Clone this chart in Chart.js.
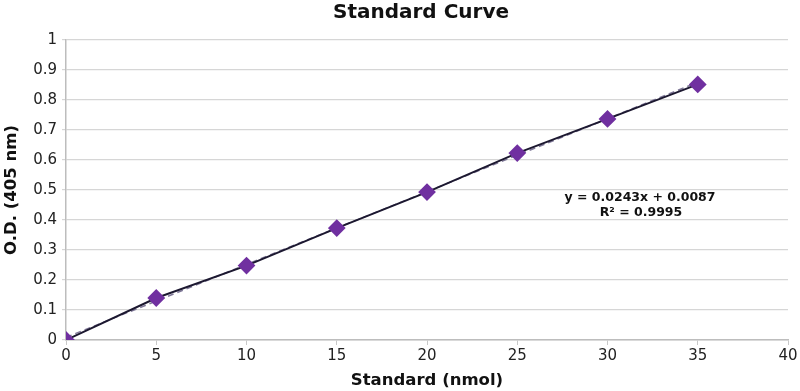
<!DOCTYPE html>
<html><head><meta charset="utf-8">
<script src="https://cdn.jsdelivr.net/npm/chart.js@4/dist/chart.umd.min.js"></script>
<style>html,body{margin:0;padding:0;background:#fff}#wrap{width:800px;height:391px}</style>
</head><body><div id="wrap"><canvas id="c"></canvas></div>
<script>
const standards = [0, 5, 10, 15, 20, 25, 30, 35];
const odValues = [0, 0.14, 0.248, 0.373, 0.493, 0.623, 0.737, 0.852];
const trendX = [0, 35];
const trendY = [0.0087, 0.859];
const xTicks = [0, 5, 10, 15, 20, 25, 30, 35, 40];
const yTicks = [0, 0.1, 0.2, 0.3, 0.4, 0.5, 0.6, 0.7, 0.8, 0.9, 1];
const titleText = 'Standard Curve';
const xTitle = 'Standard (nmol)';
const yTitle = 'O.D. (405 nm)';
const equationLines = ['y = 0.0243x + 0.0087', 'R² = 0.9995'];

const FONT = "'DejaVu Sans', Verdana, sans-serif";

const textPlugin = {
  id: 'texts',
  afterDraw(chart) {
    const ctx = chart.ctx;
    ctx.save();
    ctx.fillStyle = '#111';
    ctx.textAlign = 'center';
    ctx.textBaseline = 'middle';
    ctx.font = 'bold 20px ' + FONT;
    ctx.fillText(titleText, 421, 13);
    ctx.font = 'bold 12.5px ' + FONT;
    ctx.fillText(equationLines[0], 640, 198);
    ctx.fillText(equationLines[1], 641, 213);
    ctx.restore();
  }
};

new Chart(document.getElementById('c'), {
  type: 'scatter',
  data: {
    datasets: [
      {
        data: trendX.map((x, i) => ({x, y: trendY[i]})),
        showLine: true,
        borderColor: '#7f7898',
        borderWidth: 1.5,
        borderDash: [6, 4],
        pointRadius: 0,
        order: 2
      },
      {
        data: standards.map((x, i) => ({x, y: odValues[i]})),
        showLine: true,
        borderColor: '#1c1830',
        borderWidth: 2,
        pointStyle: 'rectRot',
        pointRadius: 7.5,
        pointBackgroundColor: '#7030a0',
        pointBorderColor: '#7030a0',
        order: 1
      }
    ]
  },
  options: {
    responsive: true,
    maintainAspectRatio: false,
    animation: false,
    layout: {padding: {top: 40, right: 12, left: 0, bottom: 0}},
    plugins: {legend: {display: false}, tooltip: {enabled: false}, title: {display: false}},
    scales: {
      x: {
        type: 'linear', min: 0, max: 40,
        afterBuildTicks(s) { s.ticks = xTicks.map(v => ({value: v})); },
        afterFit(s) { s.height = 51; },
        ticks: {color: '#222', font: {family: FONT, size: 15}, padding: 2, maxRotation: 0,
                callback: v => String(v)},
        grid: {drawOnChartArea: false, drawTicks: true, tickLength: 5, color: '#c8c8c8'},
        border: {color: '#bdbdbd', width: 1.5},
        title: {display: true, text: xTitle, color: '#111', font: {family: FONT, size: 16.5, weight: 'bold'}, padding: {top: 0, bottom: 0}}
      },
      y: {
        type: 'linear', min: 0, max: 1,
        afterBuildTicks(s) { s.ticks = yTicks.map(v => ({value: v})); },
        afterFit(s) { s.width = 66; },
        ticks: {color: '#222', font: {family: FONT, size: 15}, padding: 5,
                callback: v => String(+v.toFixed(1))},
        grid: {color: '#d6d6d6', lineWidth: 1.2, drawTicks: true, tickLength: 4},
        border: {color: '#bdbdbd', width: 1.5},
        title: {display: true, text: yTitle, color: '#111', font: {family: FONT, size: 16.5, weight: 'bold'}, padding: {top: 2, bottom: 0}}
      }
    }
  },
  plugins: [textPlugin]
});
</script></body></html>
